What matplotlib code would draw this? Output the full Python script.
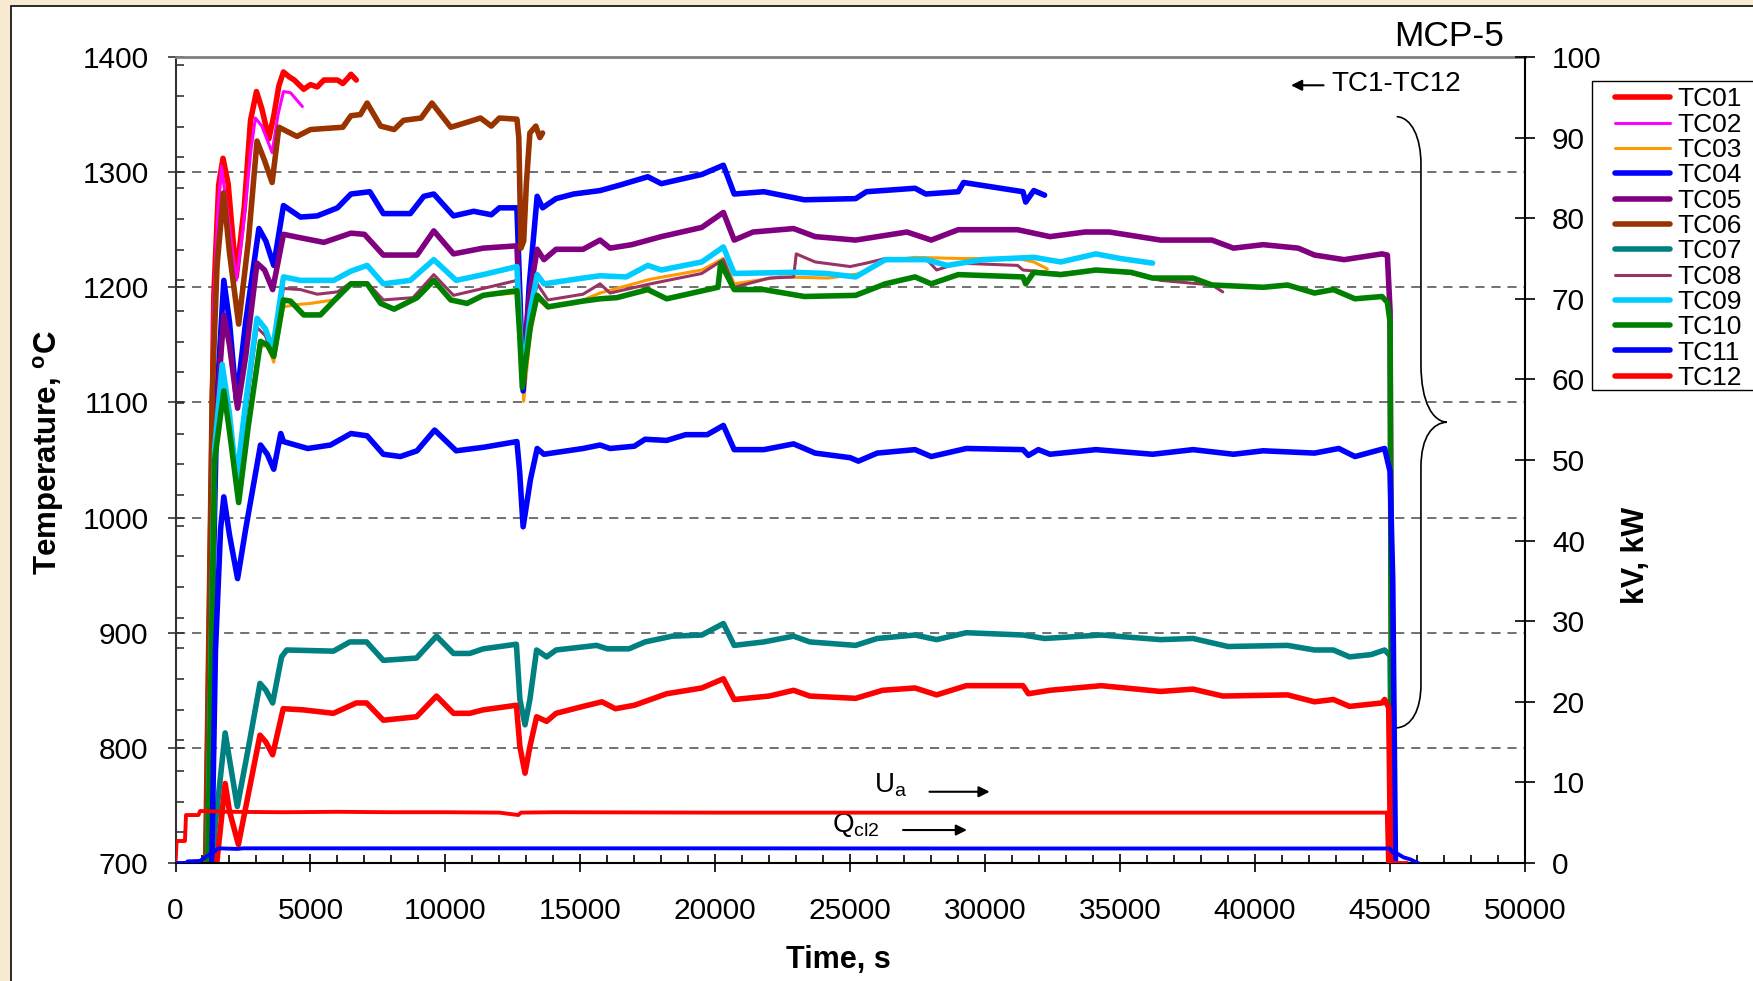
import numpy as np
import matplotlib
matplotlib.use('Agg')
import matplotlib.pyplot as plt
from matplotlib.patches import Rectangle, PathPatch
from matplotlib.path import Path
from matplotlib.ticker import MultipleLocator, FixedLocator

plt.rcParams['font.family'] = ['Liberation Sans', 'DejaVu Sans']
plt.rcParams['mathtext.fontset'] = 'custom'
plt.rcParams['mathtext.rm'] = 'Liberation Sans'

# ---------------- data (time in s, temperature in degC) ----------------
t_tc01 = [1100, 1420, 1600, 1760, 1950, 2250, 2550, 2780, 3000, 3200, 3460, 3650, 3830, 4000, 4200, 4400, 4750, 5000, 5250, 5500, 6000, 6200, 6400, 6500, 6700]
T_tc01 = [640, 1193, 1289, 1312, 1290, 1209, 1270, 1345, 1370, 1355, 1329, 1350, 1375, 1387, 1383, 1380, 1372, 1376, 1374, 1380, 1380, 1377, 1382, 1385, 1380]

t_tc02 = [1100, 1400, 1580, 1700, 1900, 2250, 2500, 2800, 2960, 3200, 3580, 3800, 4000, 4260, 4700]
T_tc02 = [640, 1180, 1270, 1305, 1270, 1206, 1250, 1320, 1347, 1340, 1317, 1350, 1370, 1369, 1357]

t_tc03 = [1150, 1500, 1790, 2000, 2340, 2700, 3150, 3400, 3640, 4000, 4500, 5000, 5860, 6500, 7100, 7600, 8100, 8950, 9570, 10200, 10800, 11400, 12650, 12800, 12900, 13150, 13400, 13800, 15100, 15730, 16350, 17600, 19500, 20300, 20700, 22400, 24200, 25400, 26300, 27400, 29000, 31200, 31800, 32300]
T_tc03 = [640, 1060, 1112, 1080, 1015, 1080, 1148, 1150, 1135, 1183, 1185, 1186, 1189, 1203, 1203, 1186, 1181, 1190, 1205, 1189, 1186, 1193, 1195, 1150, 1101, 1160, 1190, 1182, 1189, 1195, 1199, 1207, 1215, 1225, 1203, 1209, 1208, 1212, 1223, 1226, 1225, 1225, 1222, 1216]

t_tc04 = [1150, 1360, 1540, 1790, 2000, 2260, 2600, 3090, 3350, 3640, 4000, 4630, 5250, 6000, 6500, 7200, 7700, 8700, 9200, 9570, 10300, 11050, 11700, 12000, 12650, 12750, 12880, 13100, 13400, 13600, 14100, 14750, 15730, 16500, 17500, 18000, 19500, 20300, 20700, 21800, 23300, 25200, 25600, 27400, 27800, 29000, 29200, 30300, 31400, 31500, 31800, 32200]
T_tc04 = [640, 907, 1106, 1206, 1170, 1101, 1170, 1251, 1240, 1219, 1271, 1261, 1262, 1269, 1281, 1283, 1264, 1264, 1279, 1281, 1262, 1266, 1263, 1269, 1269, 1200, 1110, 1200, 1279, 1269, 1277, 1281, 1284, 1289, 1296, 1290, 1298, 1306, 1281, 1283, 1276, 1277, 1283, 1286, 1281, 1283, 1291, 1287, 1283, 1274, 1284, 1280]

t_tc05 = [1150, 1400, 1790, 2000, 2300, 2600, 3020, 3300, 3600, 4000, 4630, 5500, 6500, 7000, 7700, 8950, 9570, 10300, 11400, 12650, 12750, 12880, 13100, 13400, 13650, 14100, 15100, 15730, 16100, 16900, 18000, 19500, 20300, 20700, 21400, 22900, 23700, 25200, 27100, 28000, 29000, 31200, 32400, 33700, 34600, 36500, 38400, 39200, 40300, 41600, 42200, 43300, 44700, 44900, 45000, 45100]
T_tc05 = [640, 1050, 1176, 1150, 1095, 1140, 1221, 1215, 1198, 1246, 1243, 1239, 1247, 1246, 1228, 1228, 1249, 1229, 1234, 1236, 1180, 1130, 1190, 1233, 1224, 1233, 1233, 1241, 1234, 1237, 1244, 1252, 1265, 1241, 1248, 1251, 1244, 1241, 1248, 1241, 1250, 1250, 1244, 1248, 1248, 1241, 1241, 1234, 1237, 1234, 1228, 1224, 1229, 1228, 1180, 640]

t_tc06 = [1080, 1360, 1540, 1780, 2000, 2340, 2700, 3020, 3300, 3580, 3830, 4500, 5000, 6200, 6500, 6850, 7100, 7600, 8100, 8450, 9100, 9500, 10200, 10900, 11300, 11700, 12000, 12650, 12720, 12800, 12900, 13000, 13130, 13350, 13500, 13600]
T_tc06 = [640, 1106, 1219, 1282, 1230, 1168, 1240, 1327, 1310, 1291, 1339, 1331, 1337, 1339, 1349, 1350, 1360, 1340, 1337, 1345, 1347, 1360, 1339, 1344, 1347, 1340, 1347, 1346, 1330, 1234, 1240, 1290, 1334, 1340, 1330, 1334]

t_tc07 = [1300, 1470, 1840, 2000, 2290, 2700, 3130, 3350, 3600, 3930, 4120, 5850, 6460, 7080, 7700, 8930, 9670, 10300, 10900, 11400, 12630, 12760, 12950, 13130, 13380, 13750, 14100, 15600, 16000, 16800, 17400, 18400, 19500, 20300, 20700, 21800, 22900, 23500, 25200, 26000, 27400, 28200, 29300, 31400, 32200, 34300, 36500, 37700, 39000, 41200, 42200, 42900, 43500, 44300, 44800, 45000, 45100]
T_tc07 = [640, 732, 813, 790, 749, 800, 856, 850, 839, 879, 885, 884, 892, 892, 876, 878, 897, 882, 882, 886, 890, 842, 820, 842, 885, 879, 885, 889, 886, 886, 892, 897, 898, 908, 889, 892, 897, 892, 889, 895, 898, 894, 900, 898, 895, 898, 894, 895, 888, 889, 885, 885, 879, 881, 885, 880, 640]

t_tc08 = [1150, 1450, 1730, 2000, 2260, 2600, 3020, 3330, 3600, 4000, 4630, 5250, 6000, 6500, 7100, 7700, 8800, 9570, 10300, 11400, 12650, 12750, 12880, 13150, 13400, 13800, 15100, 15730, 16100, 17600, 19500, 20300, 20700, 22000, 22900, 23000, 23700, 25000, 25600, 26300, 27800, 28200, 29000, 31200, 31400, 32800, 34100, 35400, 36500, 38400, 38800]
T_tc08 = [640, 1050, 1125, 1080, 1030, 1090, 1165, 1158, 1140, 1199, 1198, 1194, 1196, 1204, 1204, 1189, 1191, 1211, 1193, 1199, 1206, 1170, 1120, 1175, 1203, 1189, 1194, 1203, 1195, 1203, 1212, 1224, 1200, 1208, 1209, 1229, 1222, 1218, 1221, 1225, 1225, 1215, 1221, 1219, 1215, 1212, 1215, 1212, 1206, 1202, 1196]

t_tc09 = [1150, 1450, 1730, 2000, 2260, 2600, 3020, 3330, 3600, 4000, 4630, 5860, 6500, 7100, 7700, 8700, 9570, 10400, 11400, 12650, 12750, 12880, 13150, 13400, 13650, 15100, 15730, 16700, 17500, 18000, 19500, 20300, 20700, 22900, 24100, 25200, 26300, 27800, 28600, 29900, 31800, 32800, 34100, 35000, 36200]
T_tc09 = [640, 1060, 1133, 1090, 1033, 1100, 1173, 1164, 1146, 1209, 1206, 1206, 1214, 1219, 1203, 1206, 1224, 1206, 1211, 1218, 1170, 1120, 1180, 1211, 1203, 1208, 1210, 1209, 1219, 1215, 1222, 1235, 1212, 1213, 1212, 1209, 1224, 1224, 1219, 1224, 1226, 1222, 1229, 1225, 1221]

t_tc10 = [1150, 1450, 1790, 2000, 2340, 2700, 3150, 3400, 3640, 4000, 4260, 4750, 5370, 5860, 6500, 7100, 7600, 8100, 8950, 9570, 10200, 10800, 11400, 12650, 12750, 12850, 13150, 13400, 13800, 15100, 15730, 16350, 17500, 18200, 20100, 20200, 20700, 21800, 23300, 25200, 26300, 27400, 28000, 29000, 31400, 31500, 31800, 32800, 34100, 35400, 36200, 37700, 38400, 40300, 41200, 42200, 42900, 43700, 44700, 44900, 45000, 45080]
T_tc10 = [640, 1050, 1110, 1075, 1013, 1080, 1153, 1150, 1140, 1189, 1188, 1176, 1176, 1188, 1203, 1203, 1186, 1181, 1191, 1206, 1189, 1186, 1193, 1197, 1160, 1113, 1166, 1193, 1183, 1188, 1190, 1191, 1198, 1190, 1200, 1221, 1198, 1198, 1192, 1193, 1203, 1209, 1203, 1211, 1209, 1203, 1213, 1211, 1215, 1213, 1208, 1208, 1202, 1200, 1202, 1195, 1198, 1190, 1192, 1187, 1170, 640]

t_tc11 = [1300, 1480, 1670, 1790, 2000, 2300, 2600, 3150, 3400, 3640, 3900, 4000, 4900, 5740, 6500, 7100, 7700, 8330, 8950, 9600, 10400, 11400, 12650, 12750, 12880, 13150, 13400, 13650, 15100, 15730, 16100, 17000, 17400, 18200, 18900, 19700, 20300, 20700, 21800, 22900, 23700, 25000, 25300, 26000, 27400, 28000, 29300, 31400, 31600, 31970, 32400, 34100, 36200, 37700, 39200, 40300, 42200, 43100, 43700, 44800, 45000, 45100, 45200, 45250]
T_tc11 = [640, 884, 990, 1018, 985, 947, 990, 1063, 1055, 1042, 1073, 1066, 1060, 1063, 1073, 1071, 1055, 1053, 1058, 1076, 1058, 1061, 1066, 1040, 992, 1033, 1060, 1055, 1060, 1063, 1060, 1062, 1068, 1067, 1072, 1072, 1080, 1059, 1059, 1064, 1056, 1052, 1049, 1056, 1059, 1053, 1060, 1059, 1054, 1059, 1055, 1059, 1055, 1059, 1055, 1058, 1056, 1060, 1053, 1060, 1040, 945, 700, 640]

t_tc12 = [1350, 1530, 1840, 2000, 2330, 2700, 3130, 3350, 3600, 3990, 4730, 5850, 6700, 7080, 7700, 8930, 9670, 10300, 10900, 11400, 12630, 12760, 12950, 13130, 13380, 13750, 14100, 15100, 15800, 16300, 17000, 18200, 19500, 20300, 20700, 22000, 22900, 23500, 25200, 26200, 27400, 28200, 29300, 31400, 31600, 32400, 34300, 36500, 37700, 38800, 41200, 42200, 42900, 43500, 44700, 44800, 44950, 45050]
T_tc12 = [640, 700, 769, 745, 716, 760, 811, 805, 794, 834, 833, 830, 839, 839, 824, 827, 845, 830, 830, 833, 837, 801, 778, 801, 827, 823, 830, 836, 840, 834, 837, 847, 852, 860, 842, 845, 850, 845, 843, 850, 852, 846, 854, 854, 847, 850, 854, 849, 851, 845, 846, 840, 842, 836, 839, 842, 835, 640]

# right axis (kV, kW)
t_ua = [0, 40, 350, 390, 850, 910, 2000, 4000, 6000, 8000, 10000, 12000, 12700, 12800, 14000, 20000, 30000, 40000, 44880, 44920, 45600]
v_ua = [0, 2.73, 2.73, 5.95, 5.95, 6.45, 6.35, 6.3, 6.35, 6.3, 6.3, 6.25, 5.95, 6.25, 6.3, 6.25, 6.25, 6.25, 6.25, 0, 0]

t_q = [0, 400, 450, 900, 1600, 2300, 2500, 10000, 20000, 30000, 44990, 45100, 45300, 45500, 45750, 46000]
v_q = [0, 0, 0.2, 0.25, 1.82, 1.75, 1.82, 1.82, 1.82, 1.8, 1.8, 1.3, 1.1, 0.7, 0.45, 0.05]

labels = ['TC01', 'TC02', 'TC03', 'TC04', 'TC05', 'TC06', 'TC07', 'TC08', 'TC09', 'TC10', 'TC11', 'TC12']
colors = ['#FF0000', '#FF00FF', '#FF9900', '#0000FF', '#800080', '#993300',
          '#008080', '#993366', '#00CCFF', '#008000', '#0000FF', '#FF0000']
widths = [4.0, 2.2, 2.2, 4.0, 4.0, 4.0, 4.0, 2.2, 4.0, 4.0, 4.0, 4.0]
times = [t_tc01, t_tc02, t_tc03, t_tc04, t_tc05, t_tc06, t_tc07, t_tc08, t_tc09, t_tc10, t_tc11, t_tc12]
temps = [T_tc01, T_tc02, T_tc03, T_tc04, T_tc05, T_tc06, T_tc07, T_tc08, T_tc09, T_tc10, T_tc11, T_tc12]

x_major, x_minor = 5000, 1000
y_minor_step = 26.64

# ---------------- figure ----------------
W, H = 1753, 981
fig = plt.figure(figsize=(W / 100, H / 100), dpi=100, facecolor='#F8EBD2')
fig.patches.append(Rectangle((11 / W, -0.05), 1.2, 1 - 6 / H + 0.05, transform=fig.transFigure,
                             facecolor='white', edgecolor='#1a1a1a', lw=1.3, zorder=-10))

x0, x1, ytop, ybot = 175.5, 1525.0, 57.0, 863.0
ax = fig.add_axes([x0 / W, 1 - ybot / H, (x1 - x0) / W, (ybot - ytop) / H])
ax.set_facecolor('none')

handles = []
for t, T, c, lw, lab in zip(times, temps, colors, widths, labels):
    ln, = ax.plot(t, T, color=c, lw=lw, label=lab, solid_joinstyle='round', solid_capstyle='round')
    handles.append(ln)

ax.set_xlim(0, 50000)
ax.set_ylim(700, 1400)
ax.xaxis.set_major_locator(MultipleLocator(x_major))
ax.xaxis.set_minor_locator(MultipleLocator(x_minor))
ax.yaxis.set_major_locator(MultipleLocator(100))
ax.yaxis.set_minor_locator(FixedLocator(700 + y_minor_step * np.arange(1, 27)))
ax.grid(axis='y', which='major', linestyle=(0, (6, 4.5)), color='#4a4a4a', lw=1.1)
ax.set_axisbelow(True)

ax.tick_params(axis='y', which='major', direction='inout', length=12, width=1.2, color='#333333',
               pad=13.4, labelsize=21.5)
ax.tick_params(axis='y', which='minor', direction='in', length=5.8, width=1.2, color='#333333')
ax.tick_params(axis='x', which='major', direction='inout', length=12.3, width=1.2, color='black',
               pad=18, labelsize=21.5)
ax.tick_params(axis='x', which='minor', direction='in', length=5.5, width=1.2, color='black')

for s in ['left', 'bottom']:
    ax.spines[s].set_linewidth(1.5)
ax.spines['left'].set_color('#333333')
ax.spines['bottom'].set_color('black')
ax.spines['top'].set_color('#808080')
ax.spines['top'].set_linewidth(2.0)
ax.spines['right'].set_visible(False)

ax.set_xlabel('Time, s', fontsize=22, fontweight='bold', va='top')
ax.xaxis.set_label_coords((838 - x0) / (x1 - x0), -0.1023)
ax.set_ylabel(r'Temperature, $\mathregular{^o}$C', fontsize=22.5, fontweight='bold')
ax.yaxis.set_label_coords(-0.0808, 0.509)

# secondary axis
ax2 = ax.twinx()
ax2.plot(t_ua, v_ua, color='#FF0000', lw=2.8)
ax2.plot(t_q, v_q, color='#0000FF', lw=2.8)
ax2.set_ylim(0, 100)
ax2.yaxis.set_major_locator(MultipleLocator(10))
ax2.tick_params(axis='y', direction='inout', length=14.4, width=1.2, color='black', pad=12.2, labelsize=21.5)
for s in ['left', 'top', 'bottom']:
    ax2.spines[s].set_visible(False)
ax2.spines['right'].set_linewidth(1.5)
ax2.spines['right'].set_color('black')
ax2.set_ylabel('kV, kW', fontsize=22, fontweight='bold')
ax2.yaxis.set_label_coords(1.0711, 0.381)

# annotations
arrow_kw = dict(arrowstyle='-|>', color='black', lw=1.5, mutation_scale=16, shrinkA=0, shrinkB=0)
ax.annotate('', xy=(0.8266, 0.9649), xytext=(0.8507, 0.9649), xycoords='axes fraction', arrowprops=arrow_kw)
ax.text(0.8563, 0.9578, 'TC1-TC12', transform=ax.transAxes, fontsize=20, va='baseline', ha='left')
ax.annotate('', xy=(0.6033, 0.0884), xytext=(0.5587, 0.0884), xycoords='axes fraction', arrowprops=arrow_kw)
ax.text(0.5176, 0.0884, r'U$_\mathregular{a}$', transform=ax.transAxes, fontsize=20, va='baseline', ha='left')
ax.annotate('', xy=(0.5865, 0.0409), xytext=(0.5391, 0.0409), xycoords='axes fraction', arrowprops=arrow_kw)
ax.text(0.4862, 0.0388, r'Q$_\mathregular{cl2}$', transform=ax.transAxes, fontsize=20, va='baseline', ha='left')

fig.text(1394 / W, 1 - 46 / H, 'MCP-5', fontsize=25.5, va='baseline', ha='left')

# curly brace
verts = [(0.9049, 0.9260),
         (0.9160, 0.9250), (0.9229, 0.9000), (0.9229, 0.8670),
         (0.9229, 0.6194),
         (0.9229, 0.5700), (0.9320, 0.5480), (0.9420, 0.5469),
         (0.9320, 0.5460), (0.9229, 0.5300), (0.9229, 0.4904),
         (0.9229, 0.2214),
         (0.9229, 0.1900), (0.9160, 0.1690), (0.9049, 0.1677)]
codes = [Path.MOVETO, Path.CURVE4, Path.CURVE4, Path.CURVE4, Path.LINETO,
         Path.CURVE4, Path.CURVE4, Path.CURVE4, Path.CURVE4, Path.CURVE4, Path.CURVE4,
         Path.LINETO, Path.CURVE4, Path.CURVE4, Path.CURVE4]
ax2.add_patch(PathPatch(Path(verts, codes), transform=ax.transAxes, fill=False, lw=1.2,
                        edgecolor='black', clip_on=False))

# legend
fig.patches.append(Rectangle((1591.7 / W, 1 - 390 / H), (1770 - 1591.7) / W, (390 - 80.7) / H,
                             transform=fig.transFigure, facecolor='white', edgecolor='black',
                             lw=1.0, zorder=4.5))
leg = fig.legend(handles, labels, loc='upper left', bbox_to_anchor=(1615 / W, 1 - 87.5 / H),
                 bbox_transform=fig.transFigure, frameon=False, fontsize=19, handlelength=2.1,
                 handletextpad=0.25, labelspacing=0.05, borderpad=0, borderaxespad=0)
leg.set_zorder(5)

fig.savefig('out.png', dpi=100, facecolor=fig.get_facecolor())
